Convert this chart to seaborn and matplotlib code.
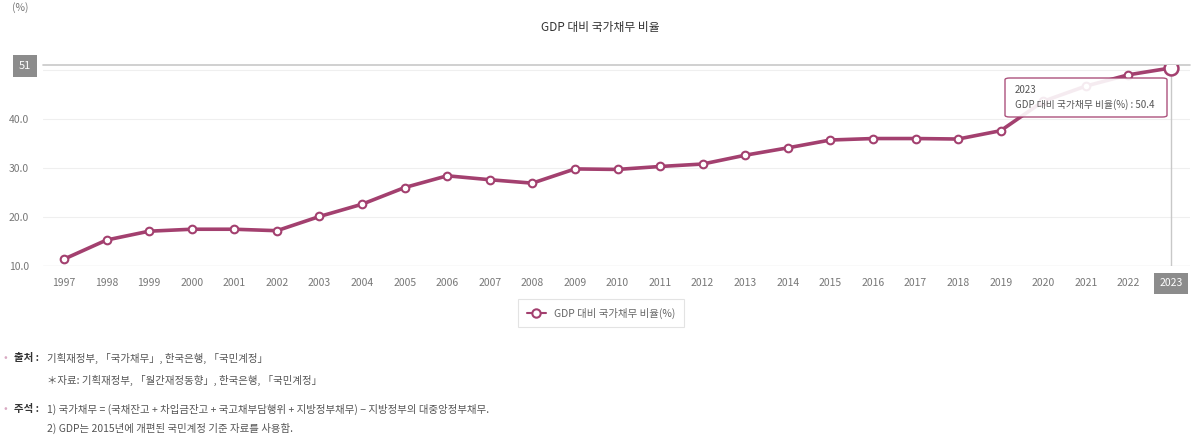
import pandas as pd
import matplotlib.pyplot as plt
import seaborn as sns
from matplotlib.lines import Line2D
from matplotlib.patches import FancyBboxPatch

# data
years = list(range(1997, 2024))
debt_ratio = [11.4, 15.3, 17.1, 17.5, 17.5, 17.2, 20.1, 22.6, 26.0, 28.4,
              27.6, 26.9, 29.8, 29.7, 30.3, 30.8, 32.6, 34.1, 35.7, 36.0,
              36.0, 35.9, 37.6, 43.6, 46.7, 49.0, 50.4]
y_ticks = [10, 20, 30, 40, 50]
series_name = 'GDP 대비 국가채무 비율(%)'

data = pd.DataFrame({'year': years, 'ratio': debt_ratio})

sns.set_style('white')
plt.rcParams['font.family'] = ['Noto Sans CJK KR', 'DejaVu Sans']

color = '#a3406f'
grey_txt = '#777777'

fig = plt.figure(figsize=(12, 4.37), dpi=100)
ax = fig.add_axes([43/1200, 1-266/437, (1190-43)/1200, (266-65)/437])

# grid
for t in y_ticks:
    ax.axhline(t, color='#efefef', lw=0.8, zorder=0)
ax.axhline(10, color='#e6e6e6', lw=1, zorder=0)

sns.lineplot(x='year', y='ratio', data=data, ax=ax, color=color, lw=2.6,
             marker='o', markersize=5.5, markerfacecolor='white',
             markeredgecolor=color, markeredgewidth=1.5, zorder=3)
# hovered point
ax.plot(years[-1], debt_ratio[-1], 'o', ms=10, mfc='white', mec=color, mew=1.8, zorder=4)

ax.set_xlim(1996.507, 2023.446)
ax.set_ylim(10, 51)
ax.set_xticks(years)
ax.set_xticklabels([str(y) for y in years])
ax.set_yticks(y_ticks)
# the 50.0 label sits under the crosshair value box
ax.set_yticklabels([f'{t:.1f}' if t < 50 else '' for t in y_ticks])
ax.tick_params(axis='both', length=0, labelsize=7.5, labelcolor=grey_txt)
ax.tick_params(axis='x', pad=9)
ax.tick_params(axis='y', pad=10)
ax.set_xlabel('')
ax.set_ylabel('')
for s in ax.spines.values():
    s.set_visible(False)

# crosshair
ax.axvline(years[-1], color='#c8c8c8', lw=1, zorder=1)
ax.axhline(51, color='#c8c8c8', lw=1.2, zorder=1, clip_on=False)

# highlighted 2023 tick label
xl = ax.get_xticklabels()[-1]
xl.set_color('white')
xl.set_bbox(dict(boxstyle='square,pad=0.5', fc='#8c8c8c', ec='none'))

# "51" crosshair label on the y axis
fig.text(25/1200, 1-66/437, '51', ha='center', va='center', fontsize=8, color='white',
         bbox=dict(boxstyle='square,pad=0.5', fc='#8c8c8c', ec='none'))

# tooltip
tip = FancyBboxPatch((1005/1200, 1-117/437), 162/1200, 39/437,
                     boxstyle='round,pad=0,rounding_size=0.004',
                     transform=fig.transFigure, fc='white', ec=color, lw=1,
                     alpha=0.9, zorder=5)
fig.patches.append(tip)
fig.text(1015/1200, 1-90/437, str(years[-1]), fontsize=7, color='#555555',
         va='center', zorder=6)
fig.text(1015/1200, 1-105/437, f'{series_name} : {debt_ratio[-1]}', fontsize=7,
         color='#555555', va='center', zorder=6)

# title and unit
fig.text(0.5, 1-27/437, 'GDP 대비 국가채무 비율', ha='center', va='center',
         fontsize=8.5, color='#333333')
fig.text(12/1200, 1-8/437, '(%)', ha='left', va='center', fontsize=7.5, color=grey_txt)

# legend
handle = Line2D([], [], color=color, lw=1.5, marker='o', ms=6, mfc='white',
                mec=color, mew=1.5)
leg = fig.legend([handle], [series_name], loc='center', bbox_to_anchor=(601/1200, 1-313/437),
                 frameon=True, fancybox=False, fontsize=7.5, handlelength=1.8,
                 borderpad=0.8, labelcolor='#666666')
leg.get_frame().set_edgecolor('#dddddd')
leg.get_frame().set_linewidth(0.8)

# footnotes
note_c = '#555555'
for yy in [358, 409]:
    fig.text(3/1200, 1-yy/437, '•', fontsize=8, color='#d9a9c2', va='center')
fig.text(14/1200, 1-358/437, '출처 :', fontsize=7.5, fontweight='bold', color='#333333', va='center')
fig.text(47/1200, 1-358/437, '기획재정부, 「국가채무」, 한국은행, 「국민계정」',
         fontsize=7.5, color=note_c, va='center')
fig.text(47/1200, 1-380/437, '＊자료: 기획재정부, 「월간재정동향」, 한국은행, 「국민계정」',
         fontsize=7.5, color=note_c, va='center')
fig.text(14/1200, 1-409/437, '주석 :', fontsize=7.5, fontweight='bold', color='#333333', va='center')
fig.text(47/1200, 1-409/437,
         '1) 국가채무 = (국채잔고 + 차입금잔고 + 국고채부담행위 + 지방정부채무) − 지방정부의 대중앙정부채무.',
         fontsize=7.5, color=note_c, va='center')
fig.text(47/1200, 1-428/437, '2) GDP는 2015년에 개편된 국민계정 기준 자료를 사용함.',
         fontsize=7.5, color=note_c, va='center')

fig.savefig('out.png', dpi=100)
